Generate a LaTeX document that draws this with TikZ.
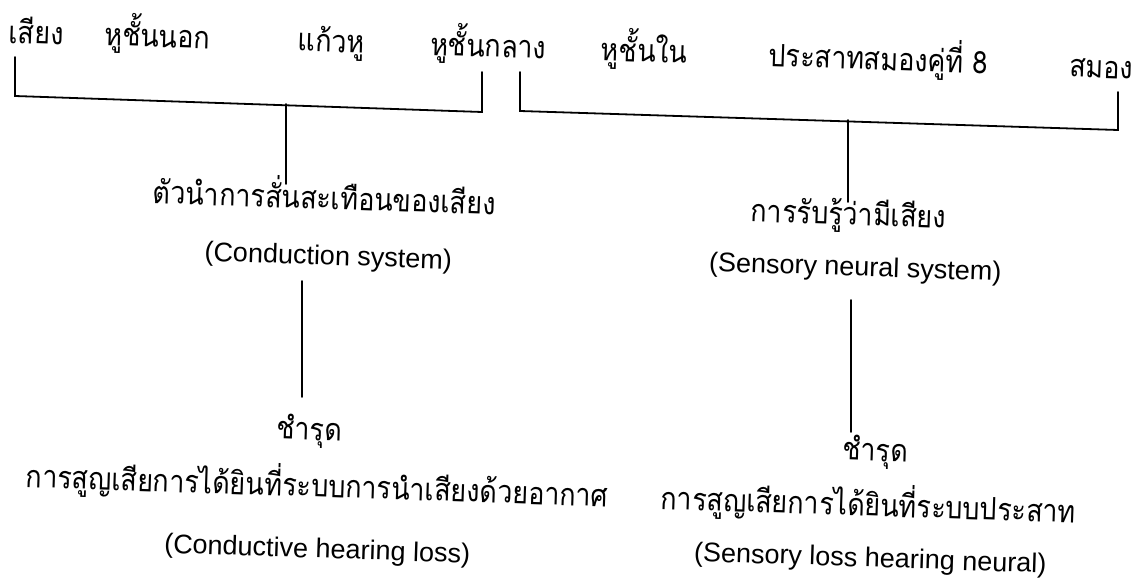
\documentclass[tikz,border=0pt]{standalone}
\usepackage{graphicx}
\usepackage{fontspec}
\setmainfont{Liberation Sans}
\newfontfamily\thaifont[Script=Thai]{Loma}
\newcommand{\tall}[1]{\scalebox{1}[1.15]{#1}}
\begin{document}
\begin{tikzpicture}[x=1pt,y=-1pt,
  th/.style={font=\thaifont\fontsize{27}{30}\selectfont, inner sep=0pt, anchor=base, rotate=-1.9},
  en/.style={font=\fontsize{27}{30}\selectfont, inner sep=0pt, anchor=base, rotate=-1.9},
  ln/.style={line width=1.8pt, line cap=round, line join=miter}]
\useasboundingbox (0,0) rectangle (1139,585);
% top labels
\node[th] (s1) at (36,44) {\tall{เสียง}};
\node[th] (s2) at (157,47) {\tall{หูชั้นนอก}};
\node[th] (s3) at (331,52) {\tall{แก้วหู}};
\node[th] (s4) at (488,57) {\tall{หูชั้นกลาง}};
\node[th] (s5) at (644,62) {\tall{หูชั้นใน}};
\node[th] (s6) at (878,70) {\tall{ประสาทสมองคู่ที่ 8}};
\node[th] (s7) at (1101,78) {\tall{สมอง}};
% bracket corners
\coordinate (a1) at (15,57);
\coordinate (a2) at (15,96);
\coordinate (a3) at (482,112);
\coordinate (a4) at (482,72);
\coordinate (b1) at (520,72);
\coordinate (b2) at (520,111);
\coordinate (b3) at (1118,130);
\coordinate (b4) at (1118,92);
\draw[ln] (a1) -- (a2) -- (a3) -- (a4);
\draw[ln] (b1) -- (b2) -- (b3) -- (b4);
% left branch
\node[th] (c1) at (324,209) {\tall{ตัวนำการสั่นสะเทือนของเสียง}};
\node[en] (c2) at (328,265) {(Conduction system)};
\node[th] (c3) at (309,440) {\tall{ชำรุด}};
\node[th] (c4) at (317,497) {\tall{การสูญเสียการได้ยินที่ระบบการนำเสียงด้วยอากาศ}};
\node[en] (c5) at (317,558) {(Conductive hearing loss)};
\coordinate (l1t) at (286,104);
\coordinate (l1b) at (286,184);
\coordinate (l2t) at (302,281);
\coordinate (l2b) at (302,397);
\draw[ln] (l1t) -- (l1b);
\draw[ln] (l2t) -- (l2b);
% right branch
\node[th] (d1) at (848,225) {\tall{การรับรู้ว่ามีเสียง}};
\node[en] (d2) at (855,276) {(Sensory neural system)};
\node[th] (d3) at (875,461) {\tall{ชำรุด}};
\node[th] (d4) at (868,516) {\tall{การสูญเสียการได้ยินที่ระบบประสาท}};
\node[en] (d5) at (870,567) {(Sensory loss hearing neural)};
\coordinate (r1t) at (848,120);
\coordinate (r1b) at (848,202);
\coordinate (r2t) at (851,300);
\coordinate (r2b) at (851,432);
\draw[ln] (r1t) -- (r1b);
\draw[ln] (r2t) -- (r2b);
\end{tikzpicture}
\end{document}
